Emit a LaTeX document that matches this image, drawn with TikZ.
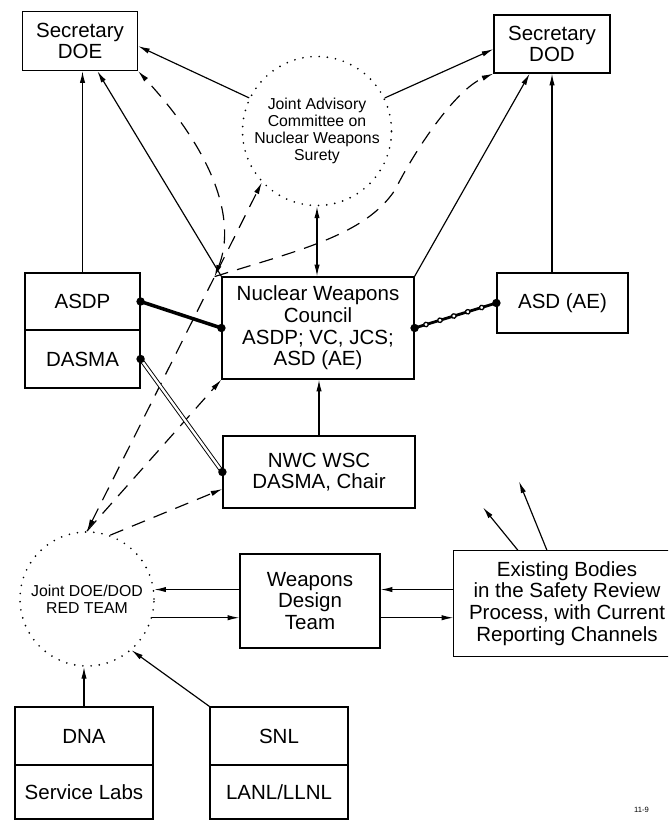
\documentclass[tikz,border=0pt]{standalone}
\usepackage{fontspec}
\setmainfont{Liberation Sans}
\usetikzlibrary{arrows.meta,calc,decorations.markings}

\begin{document}
\begin{tikzpicture}[x=0.03cm,y=-0.03cm,
   >={Latex[length=10pt,width=4.5pt]},
   box/.style={draw,line width=1pt,inner sep=0pt,align=center,font=\fontsize{17.5}{18.5}\selectfont},
   ring/.style={circle,draw,line width=1.6pt,dash pattern=on 0pt off 7pt,line cap=round,
      inner sep=-6pt,align=center,font=\fontsize{13.5}{14.5}\selectfont},
   link/.style={line width=1pt},
   dashy/.style={line width=1pt,dash pattern=on 12pt off 8pt},
   bond/.style={line width=3pt},
   twin/.style={double,double distance=2pt,line width=0.8pt},
   chain/.style={line width=2.4pt,postaction={decorate,decoration={markings,
      mark=between positions 0.14 and 0.9 step 0.17 with {\draw[fill=white,line width=1.1pt] (0,0) circle (1.9pt);}}}}]

\useasboundingbox (0,0) rectangle (668,822);
\clip (0,0) rectangle (668,822);

\node[box,minimum width=3.45cm,minimum height=1.77cm] (doe) at (80,41) {Secretary\\DOE};
\node[box,minimum width=3.48cm,minimum height=1.74cm] (dod) at (552,44) {Secretary\\DOD};
\node[ring,minimum size=4.47cm] (jac) at (317,131) {Joint Advisory\\Committee on\\Nuclear Weapons\\Surety};
\node[box,minimum width=3.45cm,minimum height=1.71cm] (asdp) at (82.5,301.5) {ASDP};
\node[box,minimum width=3.45cm,minimum height=1.74cm] (dasma) at (82.5,359) {DASMA};
\node[box,minimum width=5.76cm,minimum height=3.06cm] (nwc) at (318,328) {Nuclear Weapons\\Council\\ASDP; VC, JCS;\\ASD (AE)};
\node[box,minimum width=3.93cm,minimum height=1.8cm] (asdae) at (562.5,303) {ASD (AE)};
\node[box,minimum width=5.76cm,minimum height=2.16cm] (wsc) at (319,472) {NWC WSC\\DASMA, Chair};
\node[ring,minimum size=4.02cm] (red) at (87,599) {Joint DOE/DOD\\RED TEAM};
\node[box,minimum width=4.2cm,minimum height=2.82cm] (wdt) at (310,601) {Weapons\\Design\\Team};
\node[box,draw=none,minimum width=6.78cm,minimum height=3.15cm] (exist) at (567,603.5) {Existing Bodies\\in the Safety Review\\Process, with Current\\Reporting Channels};
\node[box,minimum width=4.14cm,minimum height=1.74cm] (dna) at (84,736) {DNA};
\node[box,minimum width=4.14cm,minimum height=1.62cm] (labs) at (84,792) {Service Labs};
\node[box,minimum width=4.14cm,minimum height=1.74cm] (snl) at (279,736) {SNL};
\node[box,minimum width=4.14cm,minimum height=1.62cm] (lanl) at (279,792) {LANL/LLNL};
\node[anchor=west,font=\fontsize{6.5}{7}\selectfont] (fig) at (630,810) {11-9};

\draw[line width=1pt] (exist.north east) -- (exist.north west) -- (exist.south west) -- (exist.south east);

\draw[link,->] (asdp.north) -- (asdp.north |- doe.south);
\draw[link,->] (nwc.north west) -- (doe.-60);
\draw[link,->] (jac.154) -- (doe.-5);
\draw[link,->] (jac.26) -- (dod.185);
\draw[link,->] (nwc.north east) -- (dod.-127);
\draw[link,->] (dod.south |- asdae.north) -- (dod.south);
\draw[link,<->] (jac.south) -- (jac.south |- nwc.north);
\draw[link,->] (wsc.north) -- (wsc.north |- nwc.south);

\coordinate (merge) at ($(red.north)!0.73!(jac.-137)$);
\draw[dashy,<->] (red.north) -- (jac.-137);
\draw[dashy,<->] (merge) .. controls (235,225) and (220,160) .. (doe.south east);
\draw[dashy,->] (merge) .. controls (300,250) and (365,235) .. (395,190)
   .. controls (415,150) and (455,90) .. (dod.south west);
\draw[dashy,->] (red.north) -- (nwc.south west);
\draw[dashy,->] (red.70) -- (wsc.190);

\draw[bond] (asdp.east) -- (nwc.west);
\draw[twin] (dasma.east) -- (wsc.west);
\draw[chain] (nwc.east) -- (asdae.west);
\foreach \p in {asdp.east,nwc.west,dasma.east,wsc.west,nwc.east,asdae.west}
   \fill (\p) circle (3.6pt);

\draw[link,->] (red.8 -| wdt.west) -- (red.8);
\draw[link,->] (red.-16) -- (red.-16 -| wdt.west);
\draw[link,->] (exist.west |- red.8) -- (wdt.east |- red.8);
\draw[link,->] (wdt.east |- red.-16) -- (exist.west |- red.-16);

\coordinate (e1) at ($(exist.north)+(-49,0)$);
\coordinate (t1) at ($(e1)+(-35,-43)$);
\coordinate (e2) at ($(exist.north)+(-20,0)$);
\coordinate (t2) at ($(e2)+(-28,-69)$);
\draw[link,->] (e1) -- (t1);
\draw[link,->] (e2) -- (t2);

\draw[link,->] (dna.north) -- (dna.north |- red.south);
\draw[link,->] (snl.north west) -- (red.-49);

\end{tikzpicture}
\end{document}
